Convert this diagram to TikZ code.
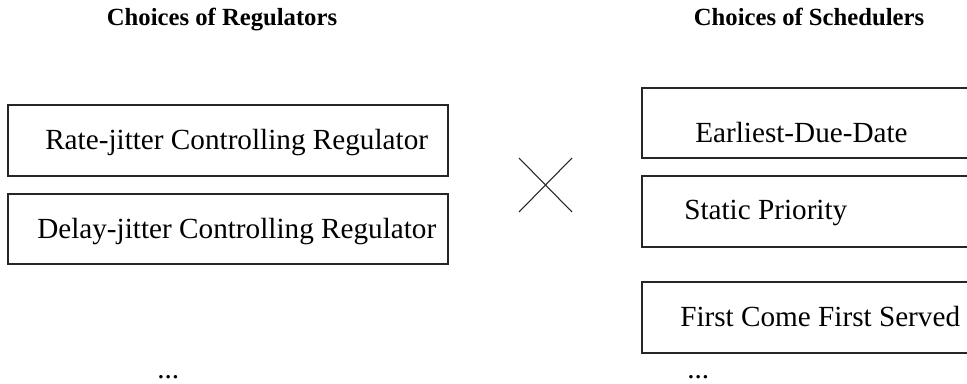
\documentclass[tikz,border=0pt]{standalone}
\usepackage{fontspec}
\setmainfont{Liberation Serif}
\begin{document}
\begin{tikzpicture}[x=0.75pt,y=-0.75pt,
  choicebox/.style={draw=black!85, line width=0.8pt},
  boxtext/.style={inner sep=0pt, anchor=base west, font=\fontsize{21.9}{26}\selectfont},
  heading/.style={inner sep=0pt, anchor=base, font=\fontsize{18.5}{22}\selectfont\bfseries},
  crossline/.style={draw=black!85, line width=0.8pt}]
\useasboundingbox (0,0) rectangle (967,383);
\clip (0,0) rectangle (967,383);

% column headings
\node[heading] (hreg) at (222,25) {Choices of Regulators};
\node[heading] (hsch) at (809,25) {Choices of Schedulers};

% regulators
\draw[choicebox] (8,105) rectangle (448,176);
\node[boxtext] (rj) at (45,149) {Rate-jitter Controlling Regulator};
\draw[choicebox] (8,194) rectangle (448,264);
\node[boxtext] (dj) at (37,238) {Delay-jitter Controlling Regulator};
\node[boxtext] (rdots) at (157,378) {...};

% product sign
\coordinate (xa) at (519,158);
\coordinate (xb) at (572,212);
\coordinate (xc) at (519,212);
\coordinate (xd) at (572,158);
\draw[crossline] (xa) -- (xb);
\draw[crossline] (xc) -- (xd);

% schedulers (boxes run off the right edge)
\draw[choicebox] (642,88) rectangle (990,158);
\node[boxtext] (edd) at (695,142) {Earliest-Due-Date};
\draw[choicebox] (642,176) rectangle (990,247);
\node[boxtext] (sp) at (684,219) {Static Priority};
\draw[choicebox] (642,282) rectangle (990,353);
\node[boxtext] (fcfs) at (680,326) {First Come First Served};
\node[boxtext] (sdots) at (687,378) {...};
\end{tikzpicture}
\end{document}
